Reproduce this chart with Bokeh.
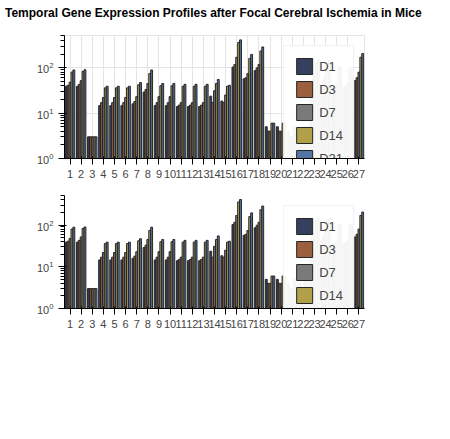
from bokeh.plotting import figure
from bokeh.models import Div
from bokeh.transform import dodge
from bokeh.layouts import column
from bokeh.embed import file_html
from bokeh.resources import INLINE

series = ["D1", "D3", "D7", "D14", "D21"]
colors = ["#34405e", "#9c5f3e", "#7a7a7a", "#b0a04a", "#5574a6"]

groups_a = [str(i) for i in range(1, 28)]
a_d1 = [39, 39, 3, 14.6, 14.6, 14.6, 16, 29, 14.6, 14.6, 14, 14, 14, 23.6, 18.4, 103, 57, 86, 5, 5, 4, 4, 42, 42, 36, 36, 52]
a_d3 = [41, 43, 3, 17, 17, 17, 18, 33, 17, 17, 15, 15, 15, 17, 17, 117, 60, 99, 4, 4, 3, 3, 55, 55, 39, 39, 60]
a_d7 = [48, 52, 3, 22, 22, 22, 23, 45, 23, 23, 17, 17, 17, 31, 25, 170, 74, 117, 4, 4, 3, 3, 70, 70, 45, 45, 80]
a_d14 = [80, 83, 3, 36, 36, 36, 42, 74, 40, 40, 39, 39, 39, 45, 39, 359, 160, 233, 6, 6, 5, 5, 127, 127, 95, 95, 170]
a_d21 = [89, 90, 3, 39, 39, 39, 47, 89, 45, 45, 43, 43, 43, 55, 41, 410, 196, 286, 6, 6, 5, 5, 147, 147, 103, 103, 205]

W = 434


def chart(borders):
    kw = dict(width=W, height=150, x_range=groups_a, y_axis_type="log", y_range=(1, 512),
              output_backend="svg", toolbar_location=None)
    if borders:
        kw.update(min_border_left=64, min_border_right=70, min_border_top=15, min_border_bottom=14)
    p = figure(**kw)
    data = {"g": groups_a, "D1": a_d1, "D3": a_d3, "D7": a_d7, "D14": a_d14, "D21": a_d21}
    offsets = [-0.34, -0.17, 0.0, 0.17, 0.34]
    for s, c, o in zip(series, colors, offsets):
        p.vbar(x=dodge("g", o, range=p.x_range), top=s, bottom=1, width=0.17, source=data,
               fill_color=c, line_color="#262626", legend_label=s)
    if borders:
        p.grid.visible = False
        p.outline_line_color = None
    return p


pA = chart(False)
pB = chart(True)
header = Div(text="<b>Temporal Gene Expression Profiles after Focal Cerebral Ischemia in Mice</b>",
             width=W, height=20)
layout = column(header, pA, pB)
open("out.html", "w").write(file_html(layout, INLINE))
